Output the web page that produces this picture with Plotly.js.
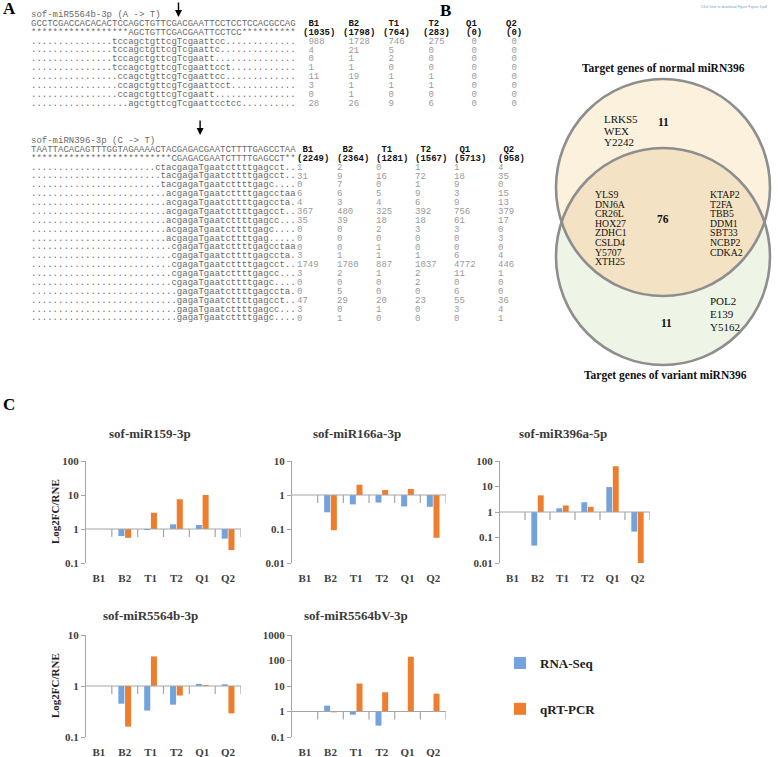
<!DOCTYPE html>
<html><head><meta charset="utf-8">
<script src="https://cdn.plot.ly/plotly-3.0.1.min.js"></script>
<style>html,body{margin:0;padding:0;background:#fff}#chart{width:778px;height:757px}</style>
</head><body><div id="chart"></div>
<script>
// ---------------- DATA ----------------
const samples = ["B1","B2","T1","T2","Q1","Q2"];

// Panel A, block 1
const seqTitle1 = "sof-miR5564b-3p (A -&gt; T)";
const seqRef1 = "GCCTCGACCACACACTCCAGCTGTTCGACGAATTCCTCCTCCACGCCAG";
const seqMature1 = "******************AGCTGTTCGACGAATTCCTCC**********";
const readStart1 = [15,15,15,15,16,16,16,18];
const readCore1 = ["tccagctgttcgTcgaattcc","tccagctgttcgTcgaattc","tccagctgttcgTcgaatt","tccagctgttcgTcgaattcct",
  "ccagctgttcgTcgaattcc","ccagctgttcgTcgaattcct","ccagctgttcgTcgaatt","agctgttcgTcgaattcctcc"];
const totals1 = [1035,1798,764,283,0,0];
const counts1 = [[988,1728,746,275,0,0],[4,21,5,0,0,0],[0,1,2,0,0,0],[1,1,0,0,0,0],
  [11,19,1,1,0,0],[3,1,1,1,0,0],[0,1,0,0,0,0],[28,26,9,6,0,0]];

// Panel A, block 2
const seqTitle2 = "sof-miRN396-3p (C -&gt; T)";
const seqRef2 = "TAATTACACAGTTTGGTAGAAAACTACGAGACGAATCTTTTGAGCCTAA";
const seqMature2 = "**************************CGAGACGAATCTTTTGAGCCT**";
const readStart2 = [23,24,24,25,25,25,25,25,25,26,26,26,26,26,27,27,27,27];
const readCore2 = ["ctacgagaTgaatcttttgagcct","tacgagaTgaatcttttgagcct","tacgagaTgaatcttttgagc",
  "acgagaTgaatcttttgagcctaa","acgagaTgaatcttttgagccta","acgagaTgaatcttttgagcct","acgagaTgaatcttttgagcc",
  "acgagaTgaatcttttgagc","acgagaTgaatcttttgag","cgagaTgaatcttttgagcctaa","cgagaTgaatcttttgagccta",
  "cgagaTgaatcttttgagcct","cgagaTgaatcttttgagcc","cgagaTgaatcttttgagc","gagaTgaatcttttgagccta",
  "gagaTgaatcttttgagcct","gagaTgaatcttttgagcc","gagaTgaatcttttgagc"];
const totals2 = [2249,2364,1281,1567,5713,958];
const counts2 = [[1,2,0,1,1,4],[31,9,16,72,18,35],[0,7,0,1,9,0],[6,6,5,9,3,15],[4,3,4,6,9,13],
  [367,480,325,392,756,379],[35,39,18,18,61,17],[0,0,2,3,3,0],[0,0,0,0,0,3],[0,0,1,0,0,0],
  [3,1,1,1,6,4],[1749,1780,887,1037,4772,446],[3,2,1,2,11,1],[0,0,0,2,0,0],[0,5,0,0,6,0],
  [47,29,20,23,55,36],[3,0,1,0,3,4],[0,1,0,0,0,1]];

// Panel B
const vennTopTitle = "Target genes of normal miRN396";
const vennBottomTitle = "Target genes of variant miRN396";
const normalOnlyGenes = ["LRKS5","WEX","Y2242"];
const normalOnlyCount = 11;
const sharedGenesLeft = ["YLS9","DNJ6A","CR26L","HOX27","ZDHC1","CSLD4","Y5707","XTH25"];
const sharedGenesRight = ["KTAP2","T2FA","TBB5","DDM1","SBT33","NCBP2","CDKA2"];
const sharedCount = 76;
const variantOnlyGenes = ["POL2","E139","Y5162"];
const variantOnlyCount = 11;

// Panel C
const mirNames = ["sof-miR159-3p","sof-miR166a-3p","sof-miR396a-5p","sof-miR5564b-3p","sof-miR5564bV-3p"];
const rnaSeq159  = [1, 0.62, 0.93, 1.37, 1.31, 0.52];
const qpcr159    = [1, 0.55, 3.0, 7.5, 10, 0.24];
const rnaSeq166  = [1, 0.31, 0.53, 0.6, 0.46, 0.45];
const qpcr166    = [1, 0.092, 2.0, 1.4, 1.5, 0.055];
const rnaSeq396  = [1, 0.048, 1.4, 2.4, 9.5, 0.17];
const qpcr396    = [1, 4.5, 1.8, 1.6, 62, 0.01];
const rnaSeq5564 = [1, 0.45, 0.33, 0.43, 1.1, 1.08];
const qpcr5564   = [1, 0.16, 3.8, 0.65, 1.05, 0.29];
const rnaSeq5564V= [1, 1.7, 0.75, 0.28, 1.0, 1.0];
const qpcr5564V  = [1, 0.93, 12.5, 5.7, 140, 5];
const seriesNames = ["RNA-Seq","qRT-PCR"];

// ---------------- LAYOUT HELPERS ----------------
const W=778, H=757;
const px = x => x/W, py = y => 1 - y/H;
const SERIF = "Liberation Serif, Times New Roman, serif";
const MONO = "Liberation Mono, Courier New, monospace";
const BLUE = "#72A3DC", ORANGE = "#EE7D2E", GRAY = "#A5A5A5";
const NB = "\u00a0";
const anns = [], shapes = [];
function T(text, x, y, o) {
  const a = {xref:"paper", yref:"paper", x:px(x), y:py(y), text:text, showarrow:false,
    xanchor:"left", yanchor:"middle", borderpad:0,
    font:{family:MONO, size:9, color:"#6a6a6a"}};
  anns.push(Object.assign(a, o||{}));
}
// multi-line block of text with a tight, fixed line pitch (lines given as [text, style])
function ML(lines, x, yFirst, pitch, size, family, color) {
  const text = lines.map(l => {
    const st = "font-size:" + size + "px" + (l[1] ? ";" + l[1] : "");
    return '<span style="' + st + '">' + l[0] + "</span>";
  }).join("<br>");
  anns.push({xref:"paper", yref:"paper", x:px(x), y:py(yFirst - 0.56*size), text:text, showarrow:false,
    xanchor:"left", yanchor:"top", align:"left", borderpad:0,
    font:{family:family, size:pitch/1.3, color:color}});
}
const dots = n => ".".repeat(n);
function readLine(start, core, len) { return dots(start) + core + dots(len - start - core.length); }

// ---------------- PANEL A ----------------
const CW = 5.4, AX = 30;
function block(cfg) {
  const L = cfg.ref.length;
  const seqLines = [[cfg.title],[cfg.ref],[cfg.mature]].concat(
    cfg.cores.map((c,j)=>[readLine(cfg.starts[j], c, L)]));
  ML(seqLines, AX, cfg.y0, cfg.dy, 9, MONO, "#6a6a6a");
  const mutIdx = cfg.cores[0].search(/[A-Z]/) + cfg.starts[0];
  anns.push({xref:"paper", yref:"paper", x:px(AX + (mutIdx+0.5)*CW), y:py(cfg.arrowTip), ax:0, ay:-16,
    text:"", showarrow:true, arrowhead:2, arrowsize:1, arrowwidth:1.4, arrowcolor:"#000"});
  samples.forEach((s,i) => {
    const cnt = "(" + cfg.totals[i] + ")";
    const pad = NB.repeat(Math.max(0, Math.floor((cnt.length - 2)/2 - 0.5)));
    const col = [[pad + s, "font-weight:bold;fill:#111"], [cnt, "font-weight:bold;fill:#111"]]
      .concat(cfg.counts.map(r => [NB.repeat(cfg.valPad) + String(r[i])]));
    ML(col, cfg.countX[i], cfg.y0 + cfg.dy, cfg.dy, 9, MONO, "#9a9a9a");
  });
}
block({title:seqTitle1, ref:seqRef1, mature:seqMature1, starts:readStart1, cores:readCore1,
  totals:totals1, counts:counts1, y0:14, dy:8.85, arrowTip:17, valPad:1,
  countX:[302,342,382,422,465,505]});
block({title:seqTitle2, ref:seqRef2, mature:seqMature2, starts:readStart2, cores:readCore2,
  totals:totals2, counts:counts2, y0:140, dy:8.87, arrowTip:135, valPad:0,
  countX:[296,336,375,414,453,497]});

// Panel labels
const PL = {family:SERIF, size:17, color:"#000", weight:"bold"};
T("A", 2, 9, {font:PL});
T("B", 439, 10, {font:PL});
T("C", 2, 405, {font:PL});
T("Click here to download Figure Figure 3.pdf", 700, 7, {font:{family:"Liberation Sans", size:3.5, color:"#7b9bd2"}});

// ---------------- PANEL B (Venn) ----------------
const VC = {cx:663, rx:107, ry:108.5, cyN:187.5, cyV:256.5};
function ell(cy, fill, line) {
  shapes.push({type:"circle", xref:"paper", yref:"paper",
    x0:px(VC.cx-VC.rx), x1:px(VC.cx+VC.rx), y0:py(cy+VC.ry), y1:py(cy-VC.ry),
    fillcolor:fill, line:line});
}
ell(VC.cyN, "#FBF1DD", {width:0});
ell(VC.cyV, "#EEF5E6", {width:0});
(function lens(){
  const s0 = Math.asin((VC.cyV-VC.cyN)/(2*VC.ry));
  const pts = [];
  const n = 80;
  for (let k=0;k<=n;k++){ const t = s0 + (Math.PI-2*s0)*k/n;
    pts.push([VC.cx + VC.rx*Math.cos(t), VC.cyV - VC.ry*Math.sin(t)]); }
  for (let k=0;k<=n;k++){ const t = Math.PI - s0 - (Math.PI-2*s0)*k/n;
    pts.push([VC.cx + VC.rx*Math.cos(t), VC.cyN + VC.ry*Math.sin(t)]); }
  const path = pts.map((p,i)=>(i?"L":"M")+px(p[0]).toFixed(5)+","+py(p[1]).toFixed(5)).join(" ")+" Z";
  shapes.push({type:"path", xref:"paper", yref:"paper", path:path, fillcolor:"#F3E2C3", line:{width:0}});
})();
ell(VC.cyN, "rgba(0,0,0,0)", {color:"#8E8E8E", width:2.6});
ell(VC.cyV, "rgba(0,0,0,0)", {color:"#8E8E8E", width:2.6});

const VB = {family:SERIF, size:11.5, color:"#111", weight:"bold"};
T(vennTopTitle, 663, 68, {xanchor:"center", font:VB});
T(vennBottomTitle, 665, 375, {xanchor:"center", font:VB});
ML(normalOnlyGenes.map(g=>[g]), 603, 118, 11.5, 11, SERIF, "#111");
T(String(normalOnlyCount), 663, 122, {xanchor:"center", font:VB});
ML(sharedGenesLeft.map(g=>[g]), 594, 193, 9.6, 9.8, SERIF, "#111");
ML(sharedGenesRight.map(g=>[g]), 709, 193, 9.6, 9.8, SERIF, "#111");
T(String(sharedCount), 663, 219, {xanchor:"center", font:VB});
ML(variantOnlyGenes.map(g=>[g]), 709, 300, 13, 11, SERIF, "#111");
T(String(variantOnlyCount), 666, 323, {xanchor:"center", font:VB});

// ---------------- PANEL C (bar charts) ----------------
const seriesSets = [[rnaSeq159,qpcr159],[rnaSeq166,qpcr166],[rnaSeq396,qpcr396],[rnaSeq5564,qpcr5564],[rnaSeq5564V,qpcr5564V]];
const yRanges = [[-1,2],[-2,1],[-2,2],[-1,1],[-1,3]];
const boxes = [
  {x0:86, x1:241, top:461, bot:563, titleY:433, titleX:150, ytitle:true},
  {x0:292, x1:446, top:461, bot:563, titleY:433, titleX:357, ytitle:false},
  {x0:500, x1:650, top:461, bot:563, titleY:433, titleX:563, ytitle:false},
  {x0:86, x1:241, top:635, bot:737, titleY:615, titleX:150, ytitle:true},
  {x0:292, x1:446, top:635, bot:737, titleY:615, titleX:356, ytitle:false}
];
const tickLabel = k => (k<0 ? Math.pow(10,k).toFixed(-k) : String(Math.pow(10,k)));
const TF = {family:SERIF, size:11, color:"#404040", weight:"bold"};
const data = [];
const layout = {width:W, height:H, margin:{l:0,r:0,t:0,b:0}, paper_bgcolor:"#fff", plot_bgcolor:"rgba(0,0,0,0)",
  barmode:"group", bargap:0.48, bargroupgap:0.1, hovermode:false, showlegend:true,
  legend:{x:px(500), y:py(648), xanchor:"left", yanchor:"top", traceorder:"grouped", tracegroupgap:26,
    bgcolor:"rgba(0,0,0,0)", font:{family:SERIF, size:13, color:"#222", weight:"bold"}, itemwidth:30},
  annotations:anns, shapes:shapes};

boxes.forEach((b,i)=>{
  const k = i+1;
  const xName = k===1 ? "x" : "x"+k;
  const yName = k===1 ? "y" : "y"+k;
  const [lo,hi] = yRanges[i];
  const ydom = [py(b.bot), py(b.top)];
  seriesSets[i].forEach((vals,s)=>{
    data.push({type:"bar", x:samples, y:vals.map(Math.log10), xaxis:xName, yaxis:yName,
      name:seriesNames[s], legendgroup:seriesNames[s], showlegend:k===1,
      marker:{color:s===0?BLUE:ORANGE, line:{width:0}}});
  });
  layout[k===1?"xaxis":"xaxis"+k] = {domain:[px(b.x0),px(b.x1)], anchor:yName, type:"category",
    range:[-0.5,5.5], showline:false, showgrid:false, zeroline:false, ticks:"outside", ticklen:5,
    tickcolor:"rgba(0,0,0,0)", tickfont:TF, fixedrange:true};
  const yv=[], yt=[]; for (let e=lo;e<=hi;e++){ yv.push(e); yt.push(tickLabel(e)); }
  layout[k===1?"yaxis":"yaxis"+k] = {domain:ydom, anchor:xName, range:[lo,hi], tickvals:yv, ticktext:yt,
    ticks:"outside", ticklen:4, tickcolor:GRAY, showline:true, linecolor:GRAY, linewidth:1,
    showgrid:false, zeroline:false, tickfont:TF, fixedrange:true};
  // horizontal axis line crossing at value 1, with tick marks on category boundaries
  shapes.push({type:"line", xref:xName+" domain", yref:yName, x0:0, x1:1, y0:0, y1:0,
    line:{color:GRAY, width:1.2}});
  for (let j=0;j<samples.length;j++) {
    shapes.push({type:"line", xref:xName, yref:yName, ysizemode:"pixel", yanchor:0,
      x0:j+0.5, x1:j+0.5, y0:0, y1:-8, line:{color:GRAY, width:1.2}});
  }
  T("<b>"+mirNames[i]+"</b>", b.titleX, b.titleY, {xanchor:"center", font:{family:SERIF, size:13, color:"#3a3a3a", weight:"bold"}});
  if (b.ytitle) T("Log2FC/RNE", 55, (b.top+b.bot)/2, {xanchor:"center", textangle:-90,
    font:{family:SERIF, size:11, color:"#222", weight:"bold"}});
});

Plotly.newPlot("chart", data, layout, {displayModeBar:false, staticPlot:true});
</script></body></html>
